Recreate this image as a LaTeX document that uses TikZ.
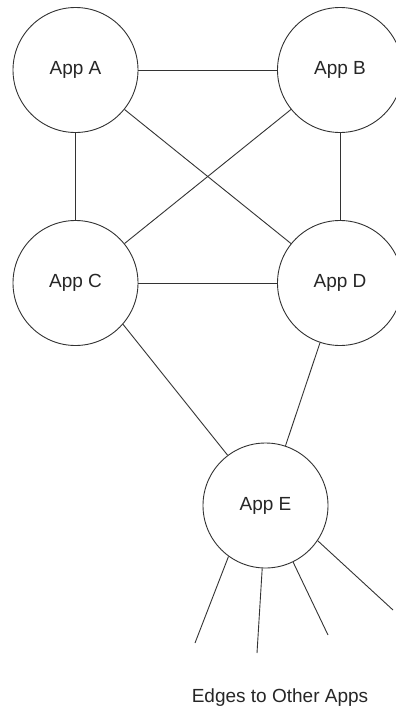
\documentclass[tikz,border=0pt]{standalone}
\usepackage{fontspec}
\setmainfont{Liberation Sans}
\usepackage{tikz}
\usetikzlibrary{shapes,arrows,positioning}

\begin{document}
\begin{tikzpicture}[x=1pt,y=-1pt,
	app/.style={circle,draw=black!80,line width=0.9pt,minimum size=125pt,inner sep=0pt,
		font=\fontsize{19}{23}\selectfont,text=black!85},
	every edge/.style={draw=black!80,line width=0.9pt}]
	\useasboundingbox (0,0) rectangle (396,712);

	\node[app] (1) at (75.5,70) {App A};
	\node[app] (2) at (340,70) {App B};
	\node[app] (3) at (75.5,283) {App C};
	\node[app] (4) at (340,283) {App D};
	\node[app] (5) at (265.5,505.5) {App E};

	\coordinate (o1) at (195,643);
	\coordinate (o2) at (257,653);
	\coordinate (o3) at (328,635);
	\coordinate (o4) at (393,610);

	\node[font=\fontsize{19}{23}\selectfont,text=black!85] (6) at (280,698) {Edges to Other Apps};

	\path [-]
	(1) edge (2)
	(1) edge (3)
	(1) edge (4)
	(2) edge (3)
	(2) edge (4)
	(3) edge (4)
	(3.-41) edge (5.127)
	(4) edge (5)
	(5.-126) edge (o1)
	(5.-93) edge (o2)
	(5.-64) edge (o3)
	(5.-34) edge (o4);
\end{tikzpicture}
\end{document}
